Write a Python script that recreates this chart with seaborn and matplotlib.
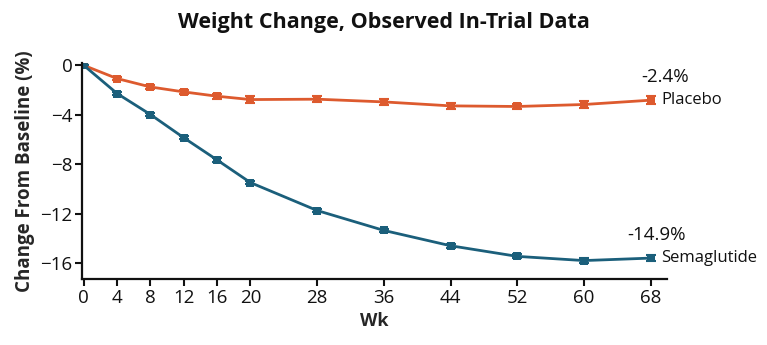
import numpy as np
import pandas as pd
import matplotlib
matplotlib.use("Agg")
import matplotlib.pyplot as plt
import seaborn as sns

# data
weeks = [0, 4, 8, 12, 16, 20, 28, 36, 44, 52, 60, 68]
placebo = [0.0, -1.07, -1.75, -2.15, -2.5, -2.77, -2.74, -2.96, -3.28, -3.33, -3.17, -2.82]
sema = [0.0, -2.28, -3.98, -5.86, -7.66, -9.49, -11.75, -13.36, -14.6, -15.46, -15.8, -15.6]
placebo_err = [0.0, 0.12, 0.14, 0.16, 0.2, 0.28, 0.25, 0.22, 0.22, 0.22, 0.25, 0.32]
sema_err = [0.0, 0.1, 0.12, 0.12, 0.14, 0.14, 0.14, 0.14, 0.16, 0.17, 0.18, 0.22]
groups = ["Placebo", "Semaglutide"]
end_labels = ["-2.4%", "-14.9%"]
label_x = [69.7, 68.7]
colors = {"Placebo": "#DD5A2E", "Semaglutide": "#1B5F7B"}

df = pd.concat([
    pd.DataFrame({"Wk": weeks, "change": placebo, "err": placebo_err, "group": "Placebo"}),
    pd.DataFrame({"Wk": weeks, "change": sema, "err": sema_err, "group": "Semaglutide"}),
])

sns.set_style("white")
plt.rcParams["font.family"] = ["Open Sans", "DejaVu Sans"]

fig = plt.figure(figsize=(7.67, 3.45), dpi=100)
ax = fig.add_axes([0.107, 0.191, 0.763, 0.625])

sns.lineplot(data=df, x="Wk", y="change", hue="group", palette=colors,
             marker="s", markersize=5.5, markeredgewidth=0, linewidth=2,
             legend=False, ax=ax)

for g in groups:
    d = df[df["group"] == g]
    ax.errorbar(d["Wk"], d["change"], yerr=d["err"], fmt="none",
                ecolor=colors[g], elinewidth=1.5, capsize=3.5, capthick=1.5)

# end labels
for g, lab, lx in zip(groups, end_labels, label_x):
    d = df[df["group"] == g]
    yend = d["change"].iloc[-1]
    ax.text(69.3, yend, g, fontsize=12, va="center", ha="left", color="#111111")
    ax.text(lx, yend + 1.9, lab, fontsize=13.5, va="center", ha="center", color="#111111")

ax.set_xlim(-0.2, 70)
ax.set_ylim(-17.3, 0.15)
ax.set_xticks(weeks)
ax.set_yticks([0, -4, -8, -12, -16])
ax.set_xlabel("Wk", fontsize=13, fontweight="bold", labelpad=4)
ax.set_ylabel("Change From Baseline (%)", fontsize=13.5, fontweight="bold", labelpad=4)
ax.tick_params(axis="both", labelsize=13.5, direction="out", length=5, width=1.5,
               colors="#111111", bottom=True, left=True, pad=2)

for s in ["top", "right"]:
    ax.spines[s].set_visible(False)
for s in ["left", "bottom"]:
    ax.spines[s].set_linewidth(1.6)
    ax.spines[s].set_color("#111111")

fig.text(0.5, 0.935, "Weight Change, Observed In-Trial Data", ha="center", va="center",
         fontsize=15.5, fontweight="bold", color="#111111")

fig.savefig("out.png", dpi=100)
